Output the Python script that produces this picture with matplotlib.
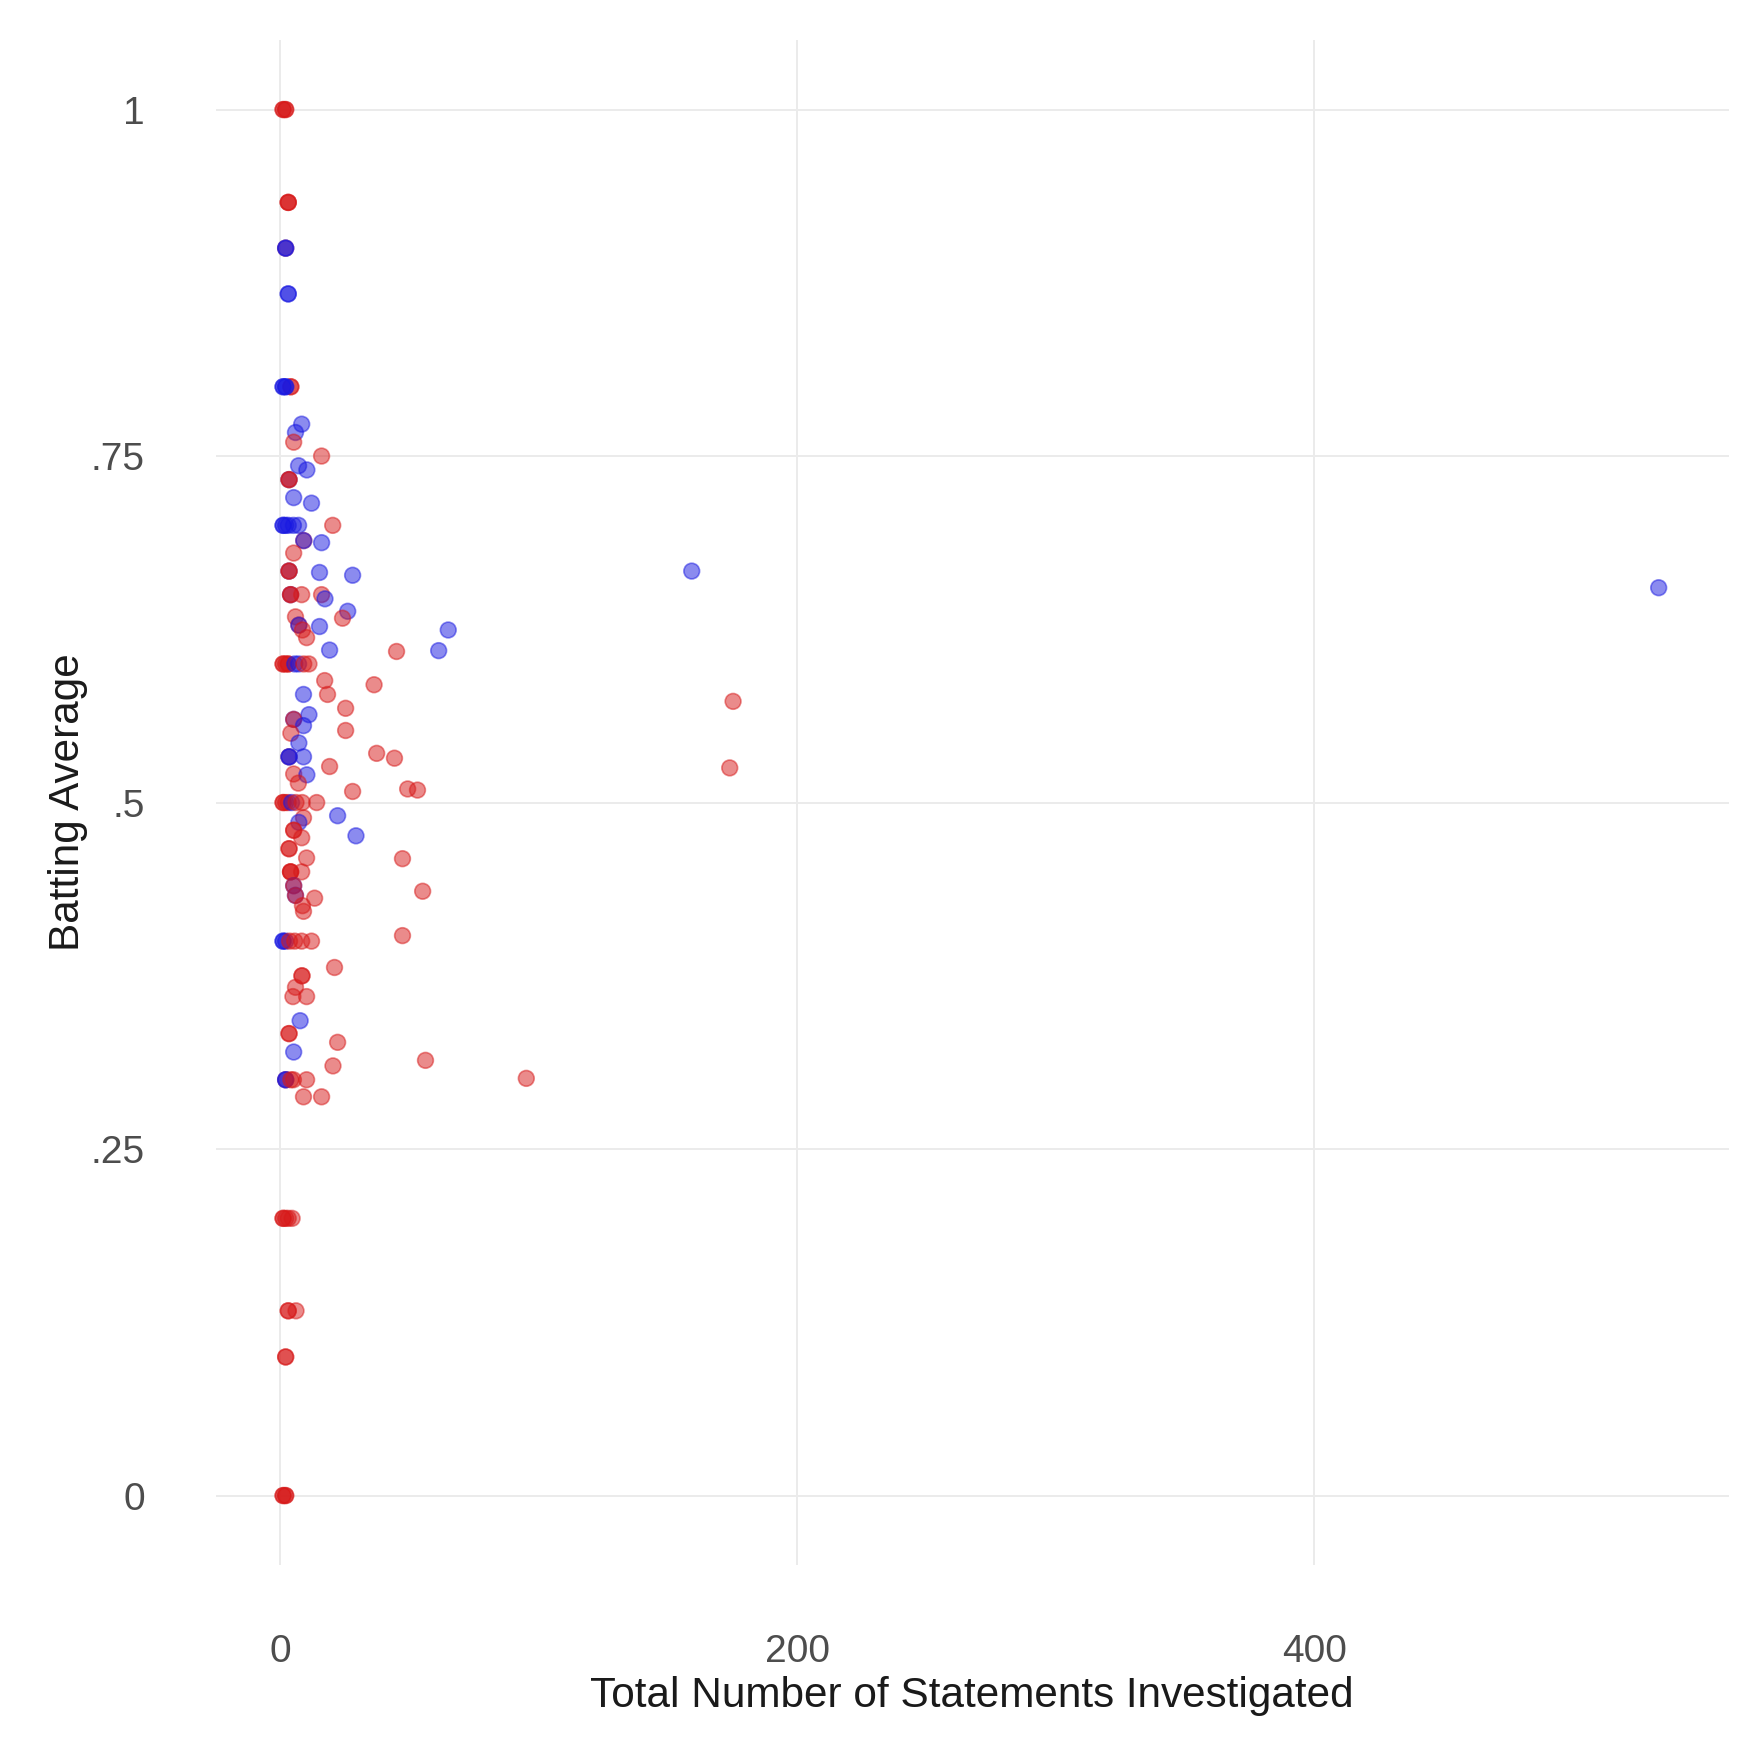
import matplotlib
matplotlib.use("Agg")
import matplotlib.pyplot as plt
import numpy as np

plt.rcParams['font.family'] = ['Liberation Sans', 'DejaVu Sans']

# Data (draw order matters for overlapping stacks)
party = [
    'R','R','R','R',
    'R','R','R',
    'R','D','D',
    'D','D',
    'R','R','D','D','D','D',
    'D','D','R','R','D','D',
    'D','R','R',
    'D','D',
    'D','D','D','D','D','D','R',
    'R','D',
    'D','R',
    'D','R','R','D','D','D',
    'D','R','R','R','R',
    'D','D',
    'D','R','R',
    'R','D',
    'R','R','D','D',
    'D','R','D',
    'R','R','R','R','R','D','D','R','R',
    'R','R','D','R','R','D',
    'D','R',
    'D','R','R','D','R','R',
    'R','D','D','D',
    'R','R','D','R','R','R','R',
    'R','R',
    'R','R','R','R','D','R','R','R',
    'D','D','R','D','R','R','R','R','R','R','R','R','R','R','R',
    'D','R','D','R',
    'R','R','R','R','R',
    'D','D','D','R','R','R','R',
    'R','R','R','R','R','R','D','R','R','D','R','R','R',
    'R','D','D','R','R','R',
    'R','R','R',
    'R','R','R','R','R',
    'R','R','R',
    'R','R',
    'R','R','R','R',
]
total_statements = [
    1, 1, 2, 2,
    3, 3, 3,
    2, 2, 2,
    3, 3,
    4, 4, 1, 1, 2, 2,
    8.2, 5.8, 5.1, 15.9, 7.0, 10.2,
    3.3, 3.3, 3.3,
    5.1, 12.0,
    1, 1, 2, 3, 5, 7, 20.2,
    9, 9,
    15.9, 5.1,
    3.3, 3.3, 3.3, 15.1, 27.9, 159.1,
    3.9, 3.9, 3.9, 8.2, 15.9,
    17.2, 533.2,
    26.0, 24.0, 5.8,
    7.1, 7.1,
    8.5, 10.1, 15.1, 64.9,
    19.0, 44.9, 61.2,
    1, 1, 2, 3, 3, 5.5, 7, 9, 11,
    17.1, 36.2, 8.9, 18.2, 25.2, 11.0,
    5.1, 5.1,
    8.9, 25.2, 4.0, 7.1, 37.2, 44.1,
    3.3, 3.3, 3.3, 8.9,
    19.0, 5.1, 10.2, 6.9, 27.9, 49.2, 53.0,
    175.1, 173.8,
    1, 1, 2, 3, 4.3, 6, 8.4, 14.0,
    22.1, 29.2, 8.9, 7.1, 5.1, 5.1, 8.2, 3.3, 3.3, 10.1, 47.2, 3.9, 3.9, 3.9, 8.2,
    5.1, 5.1, 5.8, 5.8,
    13.2, 55.0, 8.5, 8.9, 47.2,
    1, 1, 2, 3.5, 5.5, 8.2, 12.0,
    20.9, 8.3, 8.3, 5.8, 4.8, 10.1, 7.6, 3.3, 3.3, 5.1, 22.1, 20.3, 56.1,
    2, 2, 2, 4, 5, 10.1,
    8.9, 15.9, 95.1,
    1, 1, 2, 3, 4.5,
    3, 3, 6,
    2, 2,
    1, 1, 2, 2,
]
batting_avg = [
    1.0, 1.0, 1.0, 1.0,
    0.933, 0.933, 0.933,
    0.9, 0.9, 0.9,
    0.867, 0.867,
    0.8, 0.8, 0.8, 0.8, 0.8, 0.8,
    0.773, 0.767, 0.760, 0.750, 0.743, 0.740,
    0.733, 0.733, 0.733,
    0.720, 0.716,
    0.7, 0.7, 0.7, 0.7, 0.7, 0.7, 0.700,
    0.689, 0.689,
    0.6875, 0.680,
    0.667, 0.667, 0.667, 0.666, 0.664, 0.667,
    0.65, 0.65, 0.65, 0.65, 0.65,
    0.647, 0.655,
    0.638, 0.633, 0.634,
    0.628, 0.628,
    0.6245, 0.619, 0.627, 0.6245,
    0.610, 0.609, 0.6096,
    0.6, 0.6, 0.6, 0.6, 0.6, 0.6, 0.6, 0.6, 0.6,
    0.588, 0.585, 0.578, 0.578, 0.568, 0.5634,
    0.560, 0.560,
    0.5555, 0.552, 0.550, 0.543, 0.5355, 0.532,
    0.533, 0.533, 0.533, 0.533,
    0.526, 0.5206, 0.520, 0.514, 0.508, 0.5098, 0.509,
    0.573, 0.525,
    0.5, 0.5, 0.5, 0.5, 0.5, 0.5, 0.5, 0.5,
    0.4905, 0.476, 0.489, 0.4857, 0.480, 0.480, 0.4746, 0.4667, 0.4667, 0.460, 0.4595, 0.45, 0.45, 0.45, 0.45,
    0.44, 0.44, 0.433, 0.433,
    0.431, 0.436, 0.4256, 0.4215, 0.404,
    0.4, 0.4, 0.4, 0.4, 0.4, 0.4, 0.4,
    0.381, 0.375, 0.375, 0.3667, 0.36, 0.36, 0.3426, 0.3333, 0.3333, 0.32, 0.327, 0.31, 0.314,
    0.3, 0.3, 0.3, 0.3, 0.3, 0.3,
    0.2877, 0.2877, 0.301,
    0.2, 0.2, 0.2, 0.2, 0.2,
    0.1333, 0.1333, 0.1333,
    0.1, 0.1,
    0.0, 0.0, 0.0, 0.0,
]
x_ticks = [0, 200, 400]
x_tick_labels = ['0', '200', '400']
y_ticks = [0, 0.25, 0.5, 0.75, 1.0]
y_tick_labels = ['0', '.25', '.5', '.75', '1']

party_colors = {'R': '#d71919', 'D': '#1919e1'}

W, H = 1753, 1750
fig = plt.figure(figsize=(W / 100, H / 100), dpi=100)
ax = fig.add_axes([0.1230, 0.1058, 0.8633, 0.8712])

cols = [party_colors[p] for p in party]
ax.scatter(total_statements, batting_avg, s=128, c=cols, edgecolors=cols,
           linewidths=1.2, alpha=0.5, zorder=3)

ax.set_xlim(-25.1, 560.4)
ax.set_ylim(-0.05, 1.05)
ax.set_xticks(x_ticks)
ax.set_xticklabels(x_tick_labels)
ax.set_yticks(y_ticks)
ax.set_yticklabels(y_tick_labels)
for sp in ax.spines.values():
    sp.set_visible(False)
ax.grid(True, color='#EBEBEB', linewidth=1.4, zorder=0)
ax.set_axisbelow(True)
ax.tick_params(axis='x', length=0, pad=50, labelsize=28, labelcolor='#4D4D4D')
ax.tick_params(axis='y', length=0, pad=51, labelsize=28, labelcolor='#4D4D4D')

fig.text(972 / W, 1 - 1707 / H, 'Total Number of Statements Investigated',
         ha='center', va='baseline', fontsize=30.4, color='#1A1A1A')
fig.text(68 / W, 1 - 802 / H, 'Batting Average', rotation=90,
         ha='center', va='center', fontsize=30.4, color='#1A1A1A')

fig.savefig('out.png', dpi=100, facecolor='white')
